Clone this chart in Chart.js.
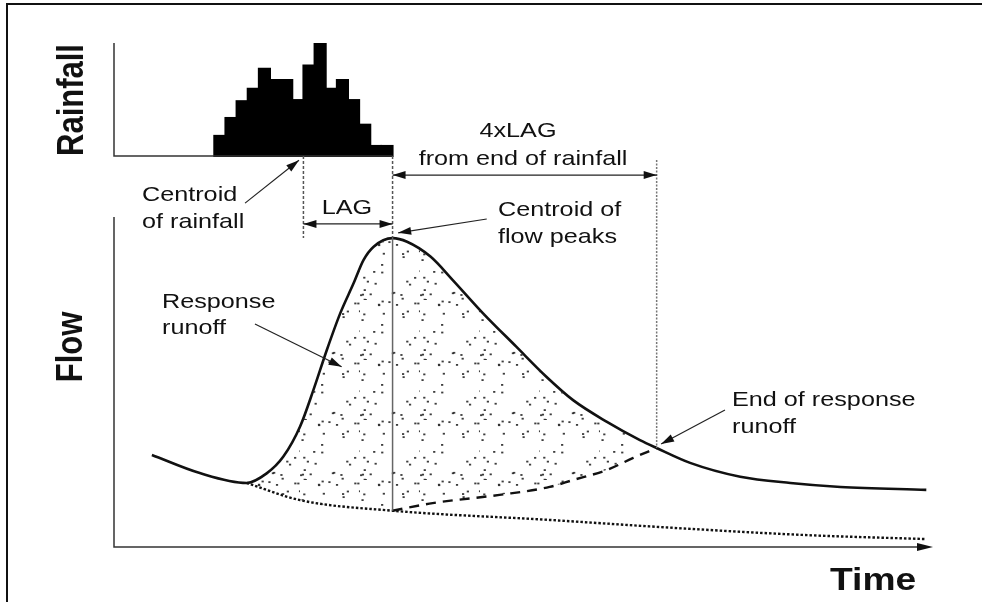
<!DOCTYPE html>
<html>
<head>
<meta charset="utf-8">
<script src="https://cdn.jsdelivr.net/npm/chart.js@4.4.1/dist/chart.umd.min.js"></script>
<style>
  html, body { margin: 0; background: #fff; }
  #wrap { width: 982px; height: 602px; position: relative; }
</style>
</head>
<body>
<div id="wrap"><canvas id="chart"></canvas></div>
<script>
/* Hydrograph separation sketch: rainfall bars on top, flow response below.
   Time runs in rainfall-interval units; flow and rainfall in arbitrary units. */

// rainfall hyetograph, one bar per interval
const RAIN_T = [9.5, 10.5, 11.5, 12.5, 13.5, 14.5, 15.5, 16.5, 17.5, 18.5, 19.5, 20.5, 21.5, 22.5, 23.5, 24.5];
const RAIN   = [1.8, 3.4, 4.9, 6.0, 7.8, 6.8, 6.8, 5.0, 8.1, 10.0, 6.0, 6.8, 5.0, 2.8, 0.9, 0.9];

// total flow hydrograph
const FLOW_T = [3.4, 7.7, 11.9, 13.7, 15.2, 16.7, 17.9, 19.1, 20.3, 21.5, 22.4, 23.3, 25.0, 26.3, 28.4, 30.4, 33.1, 36.1, 38.8, 41.2, 44.2, 47.2, 48.7, 51.7, 56.2, 60.7, 65.2, 72.9];
const FLOW   = [2.79, 2.24, 1.94, 2.23, 2.74, 3.65, 4.76, 5.97, 7.08, 7.99, 8.70, 9.10, 9.36, 9.25, 8.80, 8.09, 7.09, 6.07, 5.16, 4.45, 3.80, 3.24, 3.00, 2.55, 2.13, 1.94, 1.82, 1.73];

// baseflow recession (dotted)
const BASE_T = [11.9, 16.7, 25.0, 39.1, 50.2, 62.2, 72.9];
const BASE   = [1.94, 1.42, 1.10, 0.82, 0.58, 0.36, 0.24];

// separation line from the peak to the end of response runoff (dashed)
const SEP_T = [25.0, 28.6, 34.6, 39.1, 41.2, 44.2, 46.6, 48.7];
const SEP   = [1.10, 1.33, 1.58, 1.82, 2.03, 2.33, 2.70, 3.00];

// key times
const RAIN_CENTROID_T = 17.0;
const RAIN_END_T = 25.0;      // also the centroid of flow peaks
const RESPONSE_START_T = 11.9;
const RESPONSE_END_T = 48.7;  // 4 x LAG from end of rainfall

const RAIN_AXIS_MAX = 10.1;
const FLOW_AXIS_MAX = 10;
const T_MAX = 73.5;

// layout (pixels)
const PLOT = { left: 114, right: 933, top: 43, bottom: 547 };
const FLOW_TOP_PX = 217;
const RAIN_BASE_PX = 156;
const SX = 1.2; // the scanned lettering is stretched sideways
const FONT = '"Liberation Sans", Arial, sans-serif';

const pts = (xs, ys) => xs.map((x, i) => ({ x, y: ys[i] }));

const flowPts = pts(FLOW_T, FLOW);
const responsePts = flowPts.filter(p => p.x >= RESPONSE_START_T && p.x <= RESPONSE_END_T);
const lowerPts = pts(BASE_T, BASE).filter(p => p.x <= RAIN_END_T)
  .concat(pts(SEP_T, SEP).filter(p => p.x > RAIN_END_T));

// stipple texture for the response-runoff area
function stipple() {
  const c = document.createElement('canvas');
  c.width = 60; c.height = 60;
  const g = c.getContext('2d');
  g.fillStyle = 'rgba(40,40,40,0.9)';
  const fr = v => v - Math.floor(v);
  for (let i = 0; i < 34; i++) {
    const x = fr(Math.sin(i * 12.9898 + 1.3) * 43758.5453) * 60;
    const y = fr(Math.sin(i * 78.233 + 4.1) * 24634.6345) * 60;
    g.fillRect(x, y, 2.2, 1.8);
  }
  return g.createPattern(c, 'repeat');
}

function drawArrowHead(ctx, x1, y1, x2, y2, len, half) {
  const a = Math.atan2(y2 - y1, x2 - x1);
  ctx.beginPath();
  ctx.moveTo(x2, y2);
  ctx.lineTo(x2 - len * Math.cos(a) + half * Math.sin(a), y2 - len * Math.sin(a) - half * Math.cos(a));
  ctx.lineTo(x2 - len * Math.cos(a) - half * Math.sin(a), y2 - len * Math.sin(a) + half * Math.cos(a));
  ctx.closePath();
  ctx.fill();
}

function arrow(ctx, x1, y1, x2, y2, both) {
  ctx.beginPath();
  ctx.moveTo(x1, y1);
  ctx.lineTo(x2, y2);
  ctx.stroke();
  drawArrowHead(ctx, x1, y1, x2, y2, 13, 4);
  if (both) drawArrowHead(ctx, x2, y2, x1, y1, 13, 4);
}

function vline(ctx, x, y1, y2, dash, color, w) {
  ctx.save();
  ctx.strokeStyle = color;
  ctx.lineWidth = w;
  ctx.setLineDash(dash);
  ctx.beginPath();
  ctx.moveTo(x, y1);
  ctx.lineTo(x, y2);
  ctx.stroke();
  ctx.restore();
}

function text(ctx, str, x, y, size, opts = {}) {
  ctx.save();
  ctx.translate(x, y);
  ctx.scale(SX, 1);
  if (opts.rot) ctx.rotate(-Math.PI / 2);
  ctx.font = `${opts.bold ? 'bold ' : ''}${size}px ${FONT}`;
  ctx.textAlign = opts.align || 'left';
  ctx.textBaseline = 'middle';
  ctx.fillStyle = '#111';
  ctx.fillText(str, 0, 0);
  ctx.restore();
}

const diagram = {
  id: 'diagram',
  beforeDraw(chart) {
    const ctx = chart.ctx;
    ctx.save();
    ctx.fillStyle = '#fff';
    ctx.fillRect(0, 0, chart.width, chart.height);
    ctx.strokeStyle = '#111';
    ctx.lineWidth = 2;
    ctx.beginPath();
    ctx.moveTo(7, chart.height);
    ctx.lineTo(7, 4);
    ctx.lineTo(chart.width, 4);
    ctx.stroke();
    ctx.restore();
  },
  afterDatasetsDraw(chart) {
    const ctx = chart.ctx;
    const { x, y, yRain } = chart.scales;
    const px = t => x.getPixelForValue(t);
    const py = f => y.getPixelForValue(f);
    const pr = r => yRain.getPixelForValue(r);
    const peak = Math.max(...FLOW);
    const baseAtEnd = BASE[BASE_T.indexOf(RAIN_END_T)];

    ctx.save();
    // axes
    ctx.strokeStyle = '#333';
    ctx.lineWidth = 1.5;
    ctx.beginPath();
    ctx.moveTo(px(0), pr(RAIN_AXIS_MAX));
    ctx.lineTo(px(0), pr(0));
    ctx.lineTo(px(RAIN_END_T), pr(0));
    ctx.moveTo(px(0), py(FLOW_AXIS_MAX));
    ctx.lineTo(px(0), py(0));
    ctx.lineTo(px(T_MAX) - 8, py(0));
    ctx.stroke();
    ctx.fillStyle = '#111';
    drawArrowHead(ctx, px(0), py(0), px(T_MAX), py(0), 16, 4);

    // guide lines
    vline(ctx, px(RAIN_CENTROID_T), pr(0), py(peak), [3, 2], '#555', 1.5);
    vline(ctx, px(RAIN_END_T), pr(0), py(peak), [3, 2], '#555', 1.5);
    vline(ctx, px(RAIN_END_T), py(peak), py(baseAtEnd), [], '#666', 1.5);
    vline(ctx, px(RESPONSE_END_T), py(11.73), py(3.0), [2, 1.5], '#777', 1.5);

    // arrows
    ctx.strokeStyle = '#222';
    ctx.fillStyle = '#111';
    ctx.lineWidth = 1.2;
    arrow(ctx, px(RAIN_CENTROID_T), py(9.79), px(RAIN_END_T), py(9.79), true);
    arrow(ctx, px(RAIN_END_T), py(11.27), px(RESPONSE_END_T), py(11.27), true);
    arrow(ctx, px(11.76), py(10.42), px(16.6), py(11.72));
    arrow(ctx, px(33.45), py(9.94), px(25.5), py(9.52));
    arrow(ctx, px(12.65), py(6.76), px(20.43), py(5.46));
    arrow(ctx, px(54.83), py(4.15), px(49.1), py(3.12));
    ctx.restore();

    // labels
    text(ctx, 'Rainfall', 73, 100, 31, { bold: true, rot: true, align: 'center' });
    text(ctx, 'Flow', 72, 347, 31, { bold: true, rot: true, align: 'center' });
    text(ctx, 'Time', 830, 581, 31, { bold: true });
    text(ctx, 'Centroid', 142, 195, 21);
    text(ctx, 'of rainfall', 142, 222, 21);
    text(ctx, 'LAG', 347, 208, 21, { align: 'center' });
    text(ctx, '4xLAG', 518, 131, 21, { align: 'center' });
    text(ctx, 'from end of rainfall', 523, 159, 21, { align: 'center' });
    text(ctx, 'Centroid of', 498, 210, 21);
    text(ctx, 'flow peaks', 498, 237, 21);
    text(ctx, 'Response', 162, 302, 21);
    text(ctx, 'runoff', 162, 328, 21);
    text(ctx, 'End of response', 732, 400, 21);
    text(ctx, 'runoff', 732, 427, 21);
  }
};

const plotH = PLOT.bottom - PLOT.top;
const flowMax = FLOW_AXIS_MAX * plotH / (PLOT.bottom - FLOW_TOP_PX);
const rainK = (RAIN_BASE_PX - PLOT.top) / RAIN_AXIS_MAX;
const rainMin = -(PLOT.bottom - RAIN_BASE_PX) / rainK;

const lineBase = { pointRadius: 0, fill: false, yAxisID: 'y', cubicInterpolationMode: 'monotone' };

new Chart(document.getElementById('chart'), {
  data: {
    datasets: [
      {
        type: 'bar', label: 'Rainfall', yAxisID: 'yRain',
        data: pts(RAIN_T, RAIN),
        backgroundColor: '#000', borderColor: '#000', borderWidth: 0, inflateAmount: 1,
        categoryPercentage: 1, barPercentage: 1,
      },
      {
        type: 'line', label: 'Response runoff', ...lineBase,
        data: responsePts,
        borderWidth: 0, borderColor: 'rgba(0,0,0,0)',
        fill: { target: 2, above: stipple(), below: stipple() },
      },
      {
        type: 'line', label: 'Separation', ...lineBase,
        data: lowerPts, borderWidth: 0, borderColor: 'rgba(0,0,0,0)',
      },
      {
        type: 'line', label: 'Flow', ...lineBase,
        data: flowPts, borderColor: '#111', borderWidth: 2.6,
      },
      {
        type: 'line', label: 'Baseflow', ...lineBase,
        data: pts(BASE_T, BASE), borderColor: '#111', borderWidth: 2.4, borderDash: [2.5, 2],
      },
      {
        type: 'line', label: 'Separation line', ...lineBase,
        data: pts(SEP_T, SEP), borderColor: '#111', borderWidth: 2.4, borderDash: [10, 7],
      },
    ],
  },
  options: {
    responsive: true,
    maintainAspectRatio: false,
    animation: false,
    layout: { padding: { left: PLOT.left, top: PLOT.top, right: 982 - PLOT.right, bottom: 602 - PLOT.bottom } },
    plugins: { legend: { display: false }, tooltip: { enabled: false } },
    scales: {
      x: { type: 'linear', axis: 'x', min: 0, max: T_MAX, offset: false, display: false },
      y: { type: 'linear', axis: 'y', min: 0, max: flowMax, display: false },
      yRain: { type: 'linear', axis: 'y', min: rainMin, max: RAIN_AXIS_MAX, display: false },
    },
  },
  plugins: [diagram],
});
</script>
</body>
</html>
